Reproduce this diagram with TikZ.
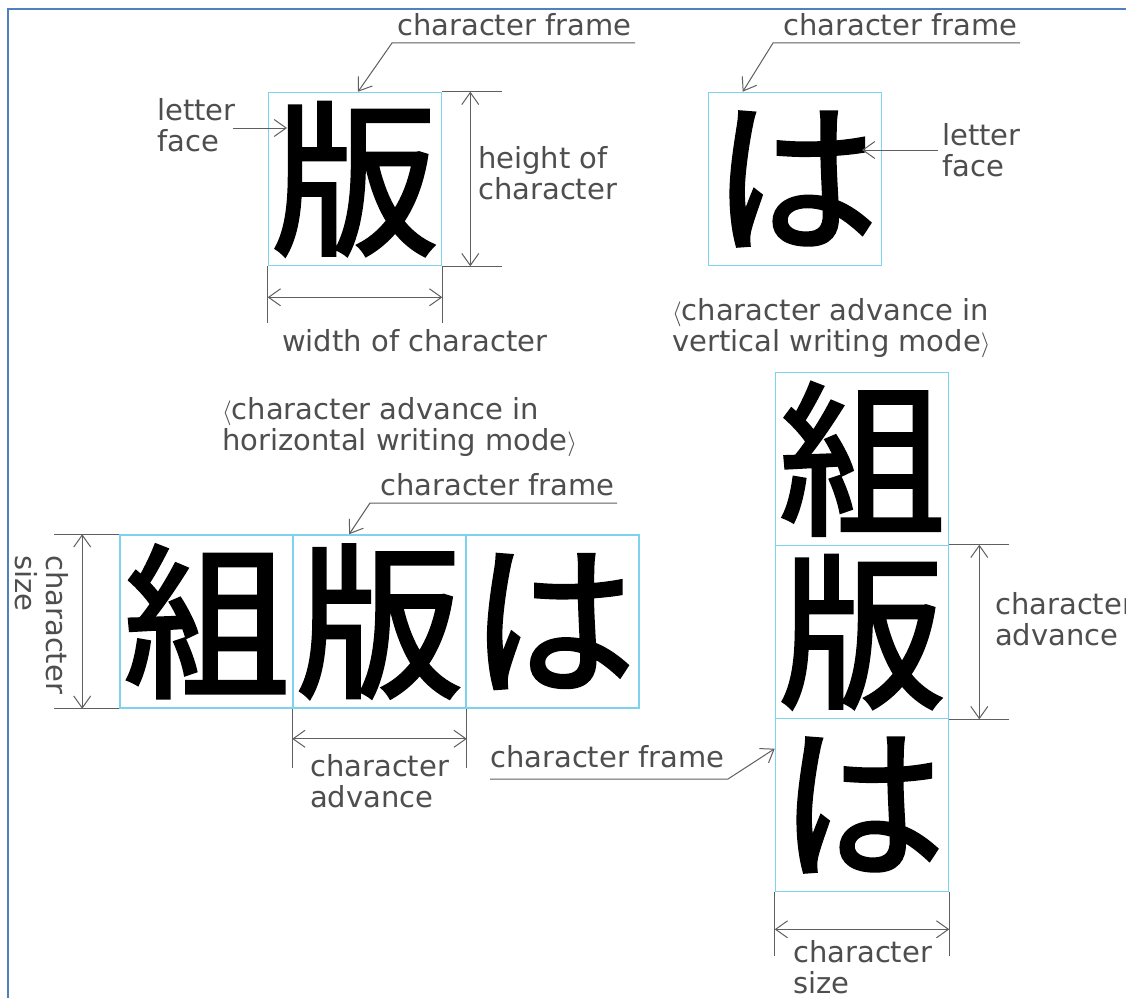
\documentclass[tikz,border=0pt]{standalone}
\usepackage{fontspec}
\setmainfont{DejaVu Sans}
\newfontfamily\cjk[FakeBold=2]{Noto Sans CJK JP}
\usetikzlibrary{arrows.meta,calc}
\definecolor{linec}{RGB}{95,95,95}
\definecolor{txtc}{RGB}{78,78,78}
\definecolor{framec}{RGB}{125,210,240}
\definecolor{borderc}{RGB}{79,129,189}
\begin{document}
\begin{tikzpicture}[x=1pt,y=-1pt,
  frame/.style={draw=framec, line width=1.6pt, minimum width=173pt, minimum height=173pt, inner sep=0pt, font=\cjk\fontsize{166}{166}\selectfont},
  lbl/.style={text=txtc, inner sep=0pt, align=left, anchor=north west, font=\fontsize{29}{31}\selectfont},
  ln/.style={draw=linec, line width=1pt},
  arr/.style={ln, -{Straight Barb[length=12pt,width=17pt]}},
  dim/.style={ln, {Straight Barb[length=12pt,width=17pt]}-{Straight Barb[length=12pt,width=17pt]}},
]
\useasboundingbox (0,0) rectangle (1126,998);
\fill[white] (0,0) rectangle (1126,998);
\draw[draw=borderc, line width=2.5pt] (1126,9) -- (8,9) -- (8,998);

% ---------- top left: 版 ----------
\node[frame] (ban1) at (355,179) {版};
\node[lbl] (cf1) at (397,13) {character frame};
\coordinate (cf1a) at (635,43);
\coordinate (cf1b) at (392,43);
\coordinate (cf1t) at ($(ban1.north)+(3,0)$);
\draw[arr] (cf1a) -- (cf1b) -- (cf1t);
\node[lbl] (lf1) at (157,98) {letter\\face};
\coordinate (lf1a) at (233,128);
\coordinate (lf1t) at (287,128);
\draw[arr] (lf1a) -- (lf1t);
\draw[ln] (ban1.north east) -- ++(60,0) coordinate (h1a);
\draw[ln] (ban1.south east) -- ++(60,0) coordinate (h1b);
\draw[dim] ($(ban1.north east)+(28,0)$) -- ($(ban1.south east)+(28,0)$);
\node[lbl] (hc1) at (478,146) {height of\\character};
\draw[ln] (ban1.south west) -- ++(0,57);
\draw[ln] (ban1.south east) -- ++(0,57);
\draw[dim] ($(ban1.south west)+(0,31)$) -- ($(ban1.south east)+(0,31)$);
\node[lbl] (wc1) at (282,329) {width of character};

% ---------- top right: は ----------
\node[frame] (ha1) at (795,179) {は};
\node[lbl] (cf2) at (783,13) {character frame};
\coordinate (cf2a) at (1020,43);
\coordinate (cf2b) at (773,43);
\coordinate (cf2t) at ($(ha1.north west)+(35,0)$);
\draw[arr] (cf2a) -- (cf2b) -- (cf2t);
\node[lbl] (lf2) at (942,123) {letter\\face};
\coordinate (lf2a) at (938,150);
\coordinate (lf2t) at (862,150);
\draw[arr] (lf2a) -- (lf2t);
\node[lbl] (cv) at (672,298) {$\langle$character advance in\\vertical writing mode$\rangle$};

% ---------- horizontal writing mode ----------
\node[lbl] (chz) at (222,397) {$\langle$character advance in\\horizontal writing mode$\rangle$};
\node[frame] (r1) at (206.5,621.5) {組};
\node[frame] (r2) at (379.5,621.5) {版};
\node[frame] (r3) at (552.5,621.5) {は};
\node[lbl] (cf3) at (380,473) {character frame};
\coordinate (cf3a) at (617,503);
\coordinate (cf3b) at (370,503);
\coordinate (cf3t) at ($(r2.north west)+(57,0)$);
\draw[arr] (cf3a) -- (cf3b) -- (cf3t);
\draw[ln] (r1.north west) -- ++(-65,0);
\draw[ln] (r1.south west) -- ++(-65,0);
\draw[dim] ($(r1.north west)+(-37,0)$) -- ($(r1.south west)+(-37,0)$);
\node[lbl, rotate=-90] (cs1) at (69,555) {character\\size};
\draw[ln] (r2.south west) -- ++(0,59);
\draw[ln] (r2.south east) -- ++(0,59);
\draw[dim] ($(r2.south west)+(0,30)$) -- ($(r2.south east)+(0,30)$);
\node[lbl] (ca1) at (310,754) {character\\advance};

% ---------- vertical writing mode ----------
\node[frame] (c1) at (862,459) {組};
\node[frame] (c2) at (862,632) {版};
\node[frame] (c3) at (862,805) {は};
\draw[ln] (c2.north east) -- ++(60,0);
\draw[ln] (c2.south east) -- ++(60,0);
\draw[dim] ($(c2.north east)+(30,0)$) -- ($(c2.south east)+(30,0)$);
\node[lbl] (ca2) at (995,592) {character\\advance};
\node[lbl] (cf4) at (490,745) {character frame};
\coordinate (cf4a) at (490,779);
\coordinate (cf4b) at (728,779);
\coordinate (cf4t) at ($(c3.north west)+(0,31)$);
\draw[arr] (cf4a) -- (cf4b) -- (cf4t);
\draw[ln] (c3.south west) -- ++(0,64);
\draw[ln] (c3.south east) -- ++(0,64);
\draw[dim] ($(c3.south west)+(0,37)$) -- ($(c3.south east)+(0,37)$);
\node[lbl] (cs2) at (793,940) {character\\size};
\end{tikzpicture}
\end{document}
